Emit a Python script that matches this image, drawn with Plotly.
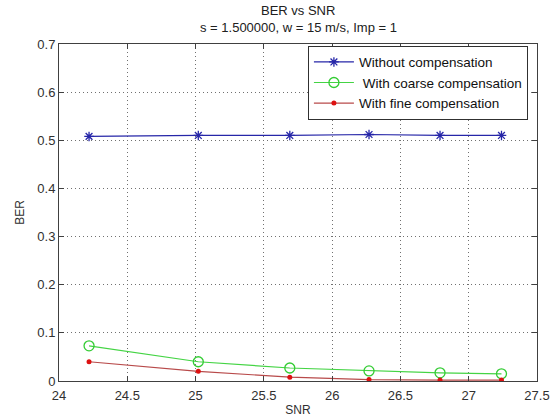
import plotly.graph_objects as go

snr = [24.22, 25.02, 25.69, 26.27, 26.79, 27.24]
ber_without = [0.508, 0.510, 0.510, 0.512, 0.510, 0.510]
ber_coarse = [0.073, 0.040, 0.027, 0.021, 0.017, 0.015]
ber_fine = [0.040, 0.020, 0.008, 0.003, 0.002, 0.002]

x_ticks = [24, 24.5, 25, 25.5, 26, 26.5, 27, 27.5]
y_ticks = [0, 0.1, 0.2, 0.3, 0.4, 0.5, 0.6, 0.7]

font = "Liberation Sans, Arial, sans-serif"

fig = go.Figure()
fig.add_trace(go.Scatter(
    x=snr, y=ber_without, mode="lines+markers", name="Without compensation",
    line=dict(color="#2626a8", width=1.2),
    marker=dict(symbol="asterisk-open", size=8, line=dict(color="#1a1ab0", width=1.3)),
))
fig.add_trace(go.Scatter(
    x=snr, y=ber_coarse, mode="lines+markers", name=" With coarse compensation",
    line=dict(color="#44d444", width=1.2),
    marker=dict(symbol="circle-open", size=10, color="#33cc33", line=dict(color="#33cc33", width=1.3)),
))
fig.add_trace(go.Scatter(
    x=snr, y=ber_fine, mode="lines+markers", name="With fine compensation",
    line=dict(color="#b84a4a", width=1.2),
    marker=dict(symbol="circle", size=5, color="#dd1111"),
))

axis_common = dict(
    showline=True, linecolor="#404040", linewidth=1, mirror="ticks",
    ticks="inside", ticklen=5, tickcolor="#404040",
    showgrid=True, gridcolor="#707070", griddash="1px,3px", gridwidth=1,
    zeroline=False, tickfont=dict(family=font, size=13, color="#303030"),
    automargin=False,
)

fig.update_xaxes(range=[24, 27.5], tickvals=x_ticks, ticktext=[f"{v:g}" for v in x_ticks],
                 ticklabelstandoff=2,
                 title=dict(text="SNR", font=dict(family=font, size=12, color="#303030"), standoff=4),
                 **axis_common)
fig.update_yaxes(range=[0, 0.7], tickvals=y_ticks, ticktext=[f"{v:g}" for v in y_ticks],
                 title=dict(text="BER", font=dict(family=font, size=12, color="#303030"), standoff=10),
                 **axis_common)

fig.add_annotation(text="BER vs SNR", xref="paper", yref="paper", x=0.5, y=1, yshift=24,
                   showarrow=False, font=dict(family=font, size=13, color="#202020"),
                   xanchor="center", yanchor="bottom")
fig.add_annotation(text="s = 1.500000, w = 15 m/s, Imp = 1", xref="paper", yref="paper", x=0.5, y=1, yshift=7,
                   showarrow=False, font=dict(family=font, size=13, color="#202020"),
                   xanchor="center", yanchor="bottom")

fig.update_layout(
    width=550, height=418,
    margin=dict(l=59, r=13, t=44, b=37),
    paper_bgcolor="white", plot_bgcolor="white",
    showlegend=True,
    legend=dict(x=0.981, y=0.995, xanchor="right", yanchor="top",
                bgcolor="white", bordercolor="#303030", borderwidth=1,
                font=dict(family=font, size=13.5, color="#101010"),
                tracegroupgap=0, itemwidth=40, entrywidth=200),
    font=dict(family=font),
)

fig.write_html("out.html")
